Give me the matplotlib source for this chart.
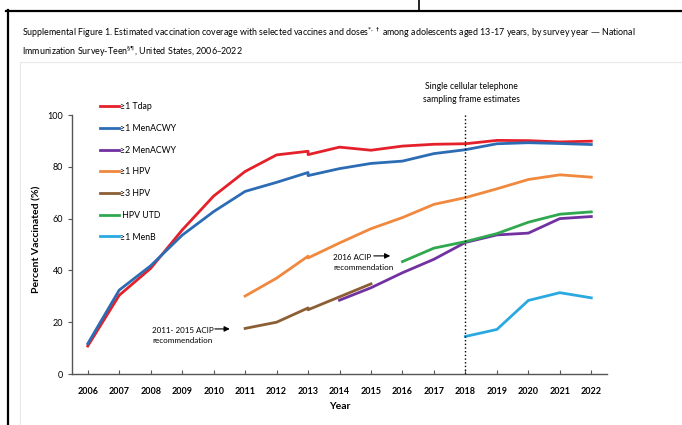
import matplotlib
matplotlib.use("Agg")
import matplotlib.pyplot as plt
from matplotlib.lines import Line2D

plt.rcParams['font.family'] = ['Lato', 'DejaVu Sans']
plt.rcParams['mathtext.fontset'] = 'dejavusans'

# Datos (2013 aparece dos veces: cambio de definición)
years_main = [2006, 2007, 2008, 2009, 2010, 2011, 2012, 2013, 2013, 2014,
              2015, 2016, 2017, 2018, 2019, 2020, 2021, 2022]
tdap = [10.8, 30.4, 40.8, 55.6, 68.7, 78.2, 84.6, 86.0, 84.7, 87.6,
        86.4, 88.0, 88.7, 88.9, 90.2, 90.1, 89.6, 89.9]
menacwy1 = [11.7, 32.4, 41.8, 53.6, 62.7, 70.5, 74.0, 77.8, 76.6, 79.3,
            81.3, 82.2, 85.1, 86.6, 88.9, 89.3, 89.0, 88.6]

years_menacwy2 = [2014, 2015, 2016, 2017, 2018, 2019, 2020, 2021, 2022]
menacwy2 = [28.5, 33.3, 39.1, 44.3, 50.8, 53.7, 54.4, 60.0, 60.8]

years_hpv1 = [2011, 2012, 2013, 2013, 2014, 2015, 2016, 2017, 2018,
              2019, 2020, 2021, 2022]
hpv1 = [30.1, 37.0, 45.5, 44.8, 50.6, 56.1, 60.4, 65.5, 68.1,
        71.5, 75.1, 76.9, 76.0]

years_hpv3 = [2011, 2012, 2013, 2013, 2014, 2015]
hpv3 = [17.6, 20.0, 25.5, 24.8, 29.8, 34.8]

years_utd = [2016, 2017, 2018, 2019, 2020, 2021, 2022]
hpv_utd = [43.4, 48.6, 51.1, 54.2, 58.6, 61.7, 62.6]

years_menb = [2018, 2019, 2020, 2021, 2022]
menb = [14.5, 17.2, 28.4, 31.4, 29.4]

tick_years = list(range(2006, 2023))

fig = plt.figure(figsize=(6.82, 4.25), dpi=100)
ax = fig.add_axes([0.1056, 0.12, 0.7845, 0.6094])

lw = 2.0
ax.plot(years_main, tdap, color='#e4212b', lw=lw, label='≥1 Tdap')
ax.plot(years_main, menacwy1, color='#2b6cb5', lw=lw, label='≥1 MenACWY')
ax.plot(years_menacwy2, menacwy2, color='#7131a1', lw=lw, label='≥2 MenACWY')
ax.plot(years_hpv1, hpv1, color='#f0883e', lw=lw, label='≥1 HPV')
ax.plot(years_hpv3, hpv3, color='#8c5e34', lw=lw, label='≥3 HPV')
ax.plot(years_utd, hpv_utd, color='#2fa84f', lw=lw, label=' HPV UTD')
ax.plot(years_menb, menb, color='#2aa9e0', lw=lw, label='≥1 MenB')

ax.vlines(2018, 0, 100, colors='black', linestyles=':', lw=1.0)

ax.set_xlim(2005.5, 2022.5)
ax.set_ylim(0, 100)
ax.set_xticks(tick_years)
ax.set_xticklabels([str(y) for y in tick_years], fontsize=6.5, fontweight='bold')
ax.set_yticks([0, 20, 40, 60, 80, 100])
ax.tick_params(axis='x', direction='in', length=3, color='#555555', pad=9)
ax.tick_params(axis='y', direction='out', length=3, color='#555555', labelsize=6.5)
for s in ['top', 'right']:
    ax.spines[s].set_visible(False)
for s in ['left', 'bottom']:
    ax.spines[s].set_color('#555555')
    ax.spines[s].set_linewidth(1.0)

ax.set_xlabel('Year', fontsize=7.5, fontweight='bold', labelpad=5)
ax.set_ylabel('Percent Vaccinated (%)', fontsize=7.5, fontweight='bold', labelpad=9)
ax.yaxis.set_label_coords(-0.058, 0.52)

ax.legend(loc='upper left', bbox_to_anchor=(96 / 682, 1 - 98 / 425),
          bbox_transform=fig.transFigure, frameon=False, fontsize=6.3,
          handlelength=2.1, handletextpad=0.15, labelspacing=1.45, borderpad=0)

ax.text(2018.2, 108.5, 'Single cellular telephone\nsampling frame estimates',
        ha='center', va='center', fontsize=6.2, clip_on=False, linespacing=1.5)

ax.text(2008.05, 15.0, '2011- 2015 ACIP\nrecommendation', ha='left', va='center',
        fontsize=5.8, linespacing=1.5)
ax.annotate('', xy=(2010.6, 17.4), xytext=(2009.95, 17.4),
            arrowprops=dict(arrowstyle='-|>', color='black', lw=0.8, mutation_scale=8))
ax.text(2013.8, 43.2, '2016 ACIP\nrecommendation', ha='left', va='center',
        fontsize=5.8, linespacing=1.5)
ax.annotate('', xy=(2015.7, 45.6), xytext=(2015.0, 45.6),
            arrowprops=dict(arrowstyle='-|>', color='black', lw=0.8, mutation_scale=8))

fig.text(22 / 682, 1 - 33 / 425,
         r'Supplemental Figure 1. Estimated vaccination coverage with selected vaccines and doses$^{*,\dagger}$ '
         'among adolescents aged 13-17 years, by survey year — National',
         fontsize=6.4, va='center', ha='left')
fig.text(22 / 682, 1 - 52 / 425,
         r'Immunization Survey-Teen$^{\S\P}$, United States, 2006–2022',
         fontsize=6.4, va='center', ha='left')

# Marco del documento
W, H = 682, 425
fig.add_artist(Line2D([6 / W, 1], [1 - 10.5 / H, 1 - 10.5 / H], color='black', lw=1.6))
fig.add_artist(Line2D([8 / W, 8 / W], [0, 1 - 10 / H], color='black', lw=1.6))
fig.add_artist(Line2D([419 / W, 419 / W], [1 - 10 / H, 1], color='black', lw=1.2))
fig.add_artist(Line2D([20 / W, 1], [1 - 62 / H, 1 - 62 / H], color='#e8e8e8', lw=0.8))
fig.add_artist(Line2D([20 / W, 20 / W], [0, 1 - 62 / H], color='#e8e8e8', lw=0.8))

fig.savefig('out.png', dpi=100)
